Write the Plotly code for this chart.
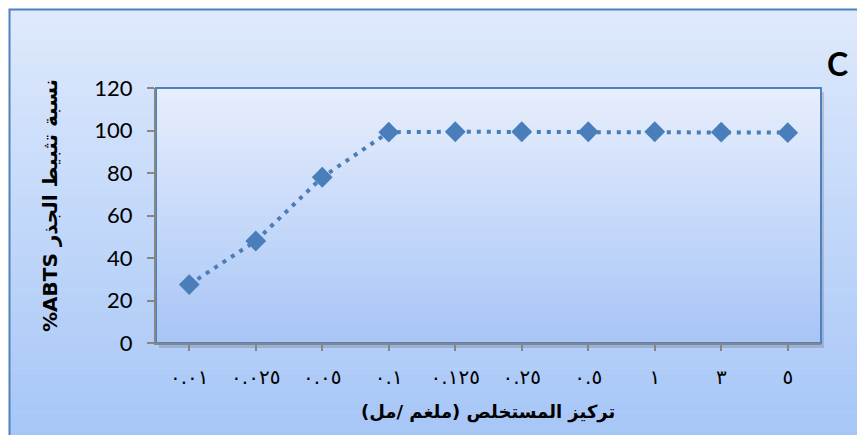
import plotly.graph_objects as go

# ---- data ----
categories = ["٠.٠١", "٠.٠٢٥", "٠.٠٥", "٠.١", "٠.١٢٥", "٠.٢٥", "٠.٥", "١", "٣", "٥"]
inhibition = [27.5, 48, 78, 99.2, 99.4, 99.4, 99.4, 99.4, 99.2, 99.0]
y_ticks = [0, 20, 40, 60, 80, 100, 120]

x_title = "\u200fتركيز المستخلص (ملغم /مل)\u200f"
y_title = "%ABTS نسبة تثبيط الجذر"
panel_label = "C"

W, H = 857, 435
L, R, T, B = 156, 821, 88, 343  # plot area pixel box


def px(x):
    return (x - L) / (R - L)


def py(y):
    return (B - y) / (B - T)


def lerp(c1, c2, t):
    return tuple(round(a + (b - a) * t) for a, b in zip(c1, c2))


shapes = []
# chart-area gradient
top_c, bot_c = (222, 233, 252), (166, 198, 247)
n = 60
y0p, y1p = 9, 440
for i in range(n):
    ya = y0p + (y1p - y0p) * i / n
    yb = y0p + (y1p - y0p) * (i + 1) / n + 0.6
    c = lerp(top_c, bot_c, i / (n - 1))
    shapes.append(dict(type="rect", xref="paper", yref="paper",
                       x0=px(9), x1=px(870), y0=py(ya), y1=py(yb),
                       fillcolor="rgb(%d,%d,%d)" % c, line=dict(width=0), layer="below"))
# chart-area border
shapes.append(dict(type="rect", xref="paper", yref="paper",
                   x0=px(9.5), x1=px(880), y0=py(9.5), y1=py(460),
                   line=dict(color="#4f81bd", width=2), fillcolor="rgba(0,0,0,0)", layer="below"))
# plot area shadow
shapes.append(dict(type="rect", xref="paper", yref="paper",
                   x0=px(159), x1=px(824), y0=py(B + 5), y1=py(T + 4),
                   fillcolor="rgba(90,90,110,0.25)", line=dict(width=0), layer="below"))
# plot-area gradient
ptop, pbot = (231, 238, 252), (168, 197, 246)
m = 40
for i in range(m):
    ya = i / m
    yb = (i + 1) / m + 0.004
    c = lerp(ptop, pbot, i / (m - 1))
    shapes.append(dict(type="rect", xref="paper", yref="paper",
                       x0=0, x1=1, y0=1 - yb, y1=1 - ya,
                       fillcolor="rgb(%d,%d,%d)" % c, line=dict(width=0), layer="below"))
# plot-area border
shapes.append(dict(type="rect", xref="paper", yref="paper", x0=0, x1=1, y0=0, y1=1,
                   line=dict(color="#4f81bd", width=2), fillcolor="rgba(0,0,0,0)", layer="below"))

fig = go.Figure()
fig.add_trace(go.Scatter(
    x=categories, y=inhibition, mode="lines+markers",
    line=dict(color="#4a7ebb", width=4, dash="4px,6px"),
    marker=dict(symbol="diamond", size=16, color="#4a7ebb"),
    showlegend=False, cliponaxis=False,
))

fig.update_layout(
    width=W, height=H,
    margin=dict(l=L, r=W - R, t=T, b=H - B),
    paper_bgcolor="white", plot_bgcolor="rgba(0,0,0,0)",
    shapes=shapes,
    xaxis=dict(type="category", range=[-0.5, len(categories) - 0.5],
               showgrid=False, zeroline=False,
               showline=True, linecolor="#868686", linewidth=2,
               ticks="outside", ticklen=6, tickcolor="#868686", tickwidth=2,
               ticklabelstandoff=9,
               tickfont=dict(family="DejaVu Sans", size=20, color="black")),
    yaxis=dict(range=[0, 120], tickvals=y_ticks, showgrid=False, zeroline=False,
               showline=True, linecolor="#868686", linewidth=2,
               ticks="outside", ticklen=7, tickcolor="#868686", tickwidth=2,
               ticklabelstandoff=10,
               tickfont=dict(family="Lato, DejaVu Sans", size=22, color="black")),
    annotations=[
        dict(text="<b>" + x_title + "</b>", xref="paper", yref="paper",
             x=px(488), y=py(412), showarrow=False, xanchor="center", yanchor="middle",
             font=dict(family="DejaVu Sans", size=18, color="black")),
        dict(text="<b>" + y_title + "</b>", xref="paper", yref="paper",
             x=px(50), y=py(206), showarrow=False, textangle=-90,
             xanchor="center", yanchor="middle",
             font=dict(family="DejaVu Sans", size=20, color="black")),
        dict(text="<b>" + panel_label + "</b>", xref="paper", yref="paper",
             x=px(837), y=py(64), showarrow=False, xanchor="center", yanchor="middle",
             font=dict(family="Lato", size=32, color="black")),
    ],
)

fig.write_html("out.html")
